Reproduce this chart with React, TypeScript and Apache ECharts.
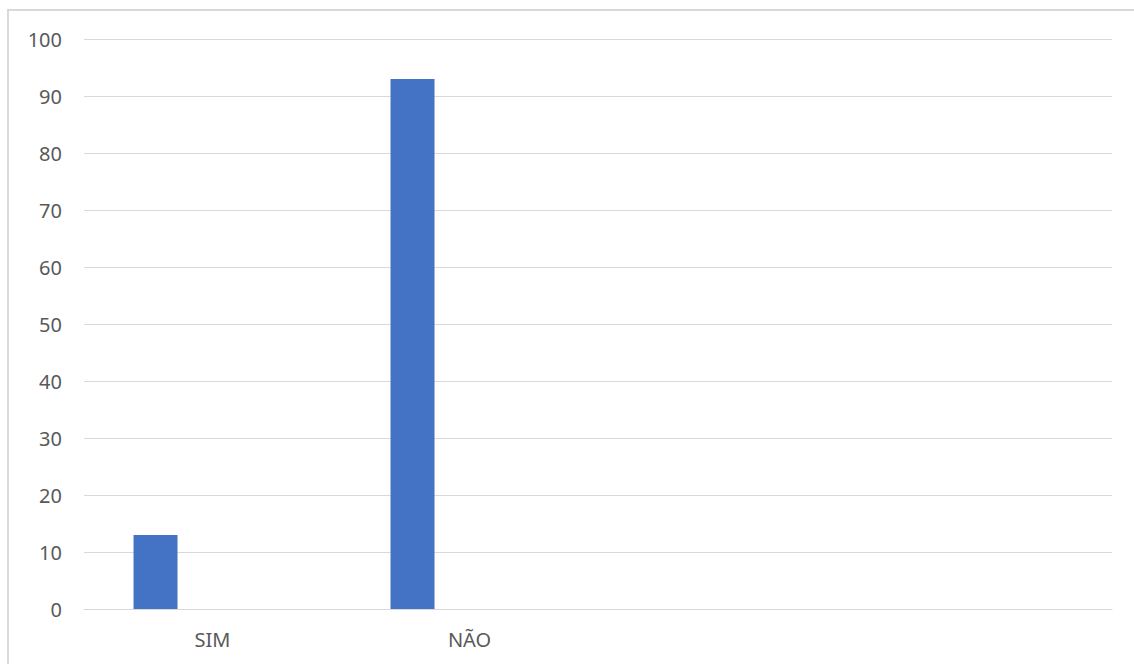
import React, { useEffect, useRef } from "react";
import * as echarts from "echarts";

const categories = ["SIM", "NÃO", "", ""];
const seriesValues: (number | null)[] = [13, 93, null, null];
const emptyValues: (number | null)[] = [null, null, null, null];
const yTicks = { min: 0, max: 100, interval: 10 };

export default function App() {
  const ref = useRef<HTMLDivElement>(null);
  useEffect(() => {
    if (!ref.current) return;
    const chart = echarts.init(ref.current, undefined, { renderer: "svg" });
    const font = "'Noto Sans', 'Open Sans', sans-serif";
    chart.setOption({
      animation: false,
      backgroundColor: "#ffffff",
      graphic: [
        {
          type: "rect",
          shape: { x: 8, y: 10, width: 1400, height: 1000 },
          style: { fill: "none", stroke: "#d9d9d9", lineWidth: 2 },
          silent: true,
        },
      ],
      grid: { left: 84, right: 22, top: 39, bottom: 55, containLabel: false },
      xAxis: {
        type: "category",
        data: categories,
        axisLine: { show: true, lineStyle: { color: "#d9d9d9", width: 1 } },
        axisTick: { show: false },
        axisLabel: {
          color: "#595959",
          fontSize: 20,
          fontFamily: font,
          margin: 20,
          interval: 0,
        },
        splitLine: { show: false },
      },
      yAxis: {
        type: "value",
        min: yTicks.min,
        max: yTicks.max,
        interval: yTicks.interval,
        axisLine: { show: false },
        axisTick: { show: false },
        axisLabel: {
          color: "#595959",
          fontSize: 20,
          fontFamily: font,
          margin: 22,
        },
        splitLine: { show: true, lineStyle: { color: "#d9d9d9", width: 1 } },
      },
      series: [
        {
          type: "bar",
          data: seriesValues,
          barWidth: 44,
          barGap: "29.5%",
          itemStyle: { color: "#4472c4" },
        },
        { type: "bar", data: emptyValues, barWidth: 44, barGap: "29.5%" },
        { type: "bar", data: emptyValues, barWidth: 44, barGap: "29.5%" },
      ],
    });
    return () => chart.dispose();
  }, []);
  return (
    <div
      ref={ref}
      style={{ position: "fixed", left: 0, top: 0, width: 1134, height: 664 }}
    />
  );
}
